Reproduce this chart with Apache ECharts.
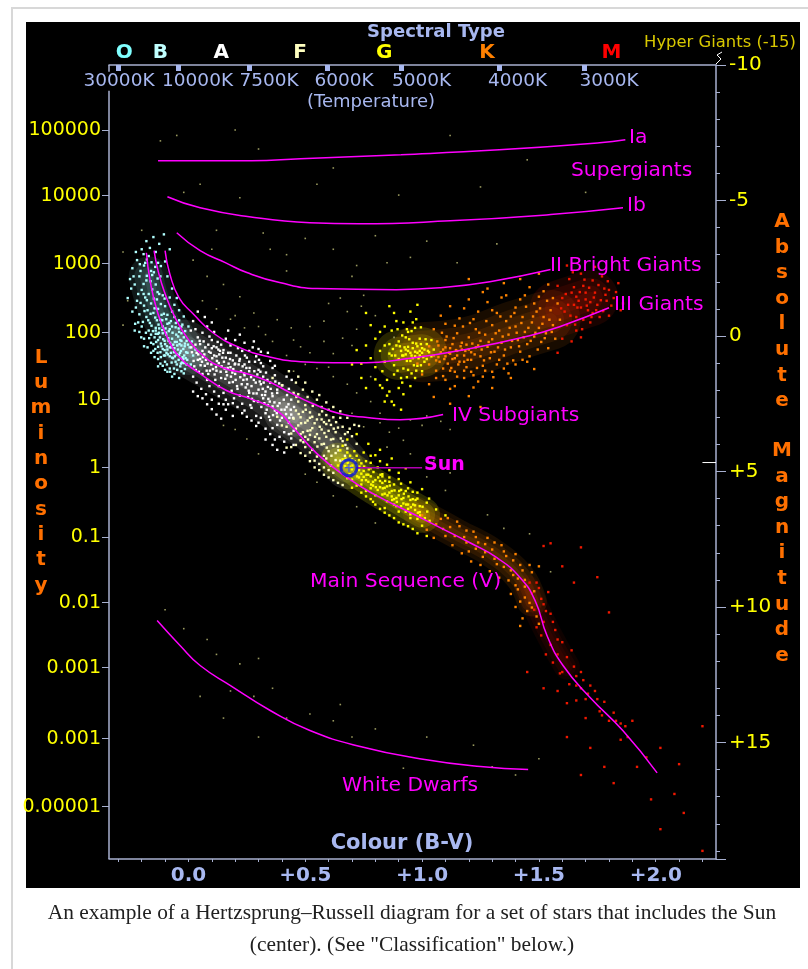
<!DOCTYPE html>
<html><head><meta charset="utf-8"><style>html,body{margin:0;padding:0;background:#fff}#c{width:808px;height:969px}</style>
<script src="https://cdn.jsdelivr.net/npm/echarts@6/dist/echarts.min.js"></script></head><body><div id="c"></div><script>
// Curves: [B-V, absolute magnitude]
const curveIa=[[-.13,-6.47],[.27,-6.47],[.48,-6.54],[.91,-6.69],[1.33,-6.87],[1.76,-7.13],[1.87,-7.24]];
const curveIb=[[-.09,-5.14],[.05,-4.73],[.26,-4.40],[.52,-4.18],[.73,-4.14],[1.12,-4.25],[1.55,-4.48],[1.86,-4.73]];
const curveII=[[-.05,-3.81],[.05,-3.15],[.16,-2.70],[.25,-2.34],[.39,-1.97],[.55,-1.75],[.89,-1.71],[1.08,-1.78],[1.29,-2.0],[1.55,-2.45]];
const curveIII=[[-.10,-3.15],[-.08,-2.30],[-.04,-1.41],[.02,-.82],[.105,-.12],[.22,.43],[.34,.76],[.48,.95],[.62,.99],[.76,.99],[.91,.87],[1.18,.51],[1.46,-.01],[1.60,-.38],[1.80,-1.04]];
const curveIV=[[-.147,-3.15],[-.13,-2.41],[-.10,-1.56],[-.057,-.68],[-.006,.06],[.063,.73],[.148,1.17],[.25,1.39],[.336,1.65],[.435,2.09],[.533,2.50],[.649,2.87],[.765,3.01],[.906,3.09],[1.09,2.90]];
const curveV=[[-.18,-3.07],[-.164,-2.04],[-.134,-.93],[-.09,.06],[-.036,.80],[.05,1.39],[.165,2.02],[.264,2.31],[.38,2.76],[.448,3.38],[.55,4.34],[.68,5.23],[.79,5.82],[.96,6.56],[1.077,7.07],[1.205,7.63],[1.32,8.18],[1.42,8.92],[1.484,9.77],[1.535,11.06],[1.604,12.17],[1.72,13.35],[1.86,14.57],[2.006,16.12]];
const curveWD=[[-.134,10.5],[-.036,11.42],[.05,12.16],[.18,12.9],[.35,13.82],[.52,14.56],[.735,15.15],[.99,15.6],[1.25,15.89],[1.454,16.0]];
const sunPoint=[[.687,4.86]];
const sunLeader=[[.72,4.86],[1.0,4.86]];
const plusFiveMark=[[2.2,4.67],[2.258,4.67]];
// Soft density ridges of the star cloud
const ridgeCyan=[[-.17,-2.2],[-.13,-1],[-.07,-.1],[0,.7]];
const ridgeWhite=[[-.02,.4],[.1,1],[.22,1.6],[.35,2.3],[.45,3]];
const ridgeCream=[[.42,2.8],[.52,3.4],[.62,4.2],[.68,4.8]];
const ridgeYellow=[[.64,4.6],[.75,5.3],[.9,6.1],[1,6.6]];
const ridgeOrangeMS=[[.98,6.5],[1.15,7.3],[1.3,8],[1.42,8.9],[1.47,9.8]];
const ridgeRedMS=[[1.45,9.3],[1.53,10.8],[1.62,12.2]];
const ridgeYellowG=[[.9,.7],[1,.6]];
const ridgeOrangeG=[[1,.6],[1.2,.4],[1.4,-.2],[1.55,-.6]];
const ridgeRedG=[[1.58,-1],[1.72,-1.4]];
// Stars as flat B-V, magnitude pairs
const cyanStars=[-.2,-3.2,-.18,-3.5,-.15,-3.65,-.22,-2.8,-.19,-2.6,-.24,-2.5,-.17,-2.95,-.14,-3.1,-.21,-2.2,-.18,-2.05,-.16,-2.4,-.13,-2.7,-.23,-1.9,-.2,-1.7,-.17,-1.55,-.14,-1.9,-.12,-2.2,-.11,-1.5,-.22,-1.3,-.19,-1.12,-.16,-1.2,-.13,-1.0,-.21,-.8,-.18,-.7,-.15,-.85,-.12,-.6,-.1,-1.1,-.09,-.45,-.2,-.35,-.17,-.2,-.14,-.3,-.11,-.1,-.08,-.25,-.06,-.7,-.19,.1,-.16,.25,-.13,.15,-.1,.3,-.07,.1,-.04,-.15,-.02,.05,-.15,.55,-.12,.6,-.09,.5,-.06,.45,-.03,.35,-.13,.85,-.1,.95,-.07,.8,-.04,.7,-.01,.6,-.11,1.1,-.08,1.2,-.05,1.05,-.02,1,-.06,1.4,-.03,1.3,-.235,-2.2,-.215,-1.55,-.185,-1.42,-.155,-1.72,-.125,-1.55,-.105,-.82,-.075,-.55,-.055,-.32,-.035,.15,-.015,.28,.005,.42,-.195,-.52,-.165,-.48,-.135,-.58,-.125,-.28,-.095,-.05,-.085,.18,-.065,.32,-.045,.5,-.025,.78,-.005,.88,-.145,.05,-.115,.38,-.105,.72,-.075,.62,-.055,.95,-.035,1.12,-.015,1.22,-.175,-.95,-.145,-1.02,-.115,-.78,-.095,-.62,-.205,-2.4,-.185,-2.7,-.155,-2.25,-.135,-1.35,-.165,-3.25,-.125,-3.4,-.105,-3.75,-.225,-1.05,-.245,-1.75,-.21,-.15,-.175,.42,-.145,.78,-.12,1.02,-.09,1.32,-.16,-.05,-.13,.4,-.08,.42,-.05,.22,-.03,-.35,-.07,-.9,-.04,-.58,-.1,.72,-.14,-.08,-.11,-.35,-.09,-.78,-.06,-1.15,-.02,1.38,.01,1.05,.02,.72,.03,.5,.015,.2,
-.188,-.92,-.172,-.58,-.158,-.38,-.142,-.68,-.128,-.42,-.112,-.58,-.098,-.28,-.082,-.48,-.068,-.12,-.052,-.05,-.038,.3,-.022,.48,-.008,.18,-.182,-.12,-.168,.08,-.152,-.18,-.138,.22,-.122,.05,-.108,.12,-.092,.38,-.078,.25,-.062,.6,-.048,.35,-.032,.55,-.018,.72,-.002,.32,-.132,.62,-.118,.78,-.102,.52,-.088,.68,-.072,.98,-.058,.75,-.042,.88,-.028,.98,-.012,.82,-.092,1.05,-.078,1.32,-.062,1.2,-.048,1.25,-.032,1.02,-.205,-1.22,-.192,-1.55,-.178,-1.32,-.162,-.82,-.148,-1.38,-.132,-1.62,-.118,-1.18,-.102,-1.38,-.192,-1.92,-.178,-2.22,-.162,-2.02,-.148,-2.35,-.132,-2.12,-.118,-2.58,-.208,-2.65,-.192,-3.02,-.178,-2.82,-.158,-2.72,-.142,-2.55,-.228,-.45,-.215,-.5,-.202,.05,-.225,-3.1,-.25,-2.1,-.26,-1.4,-.24,-.9,-.23,-.2,-.19,.38,-.16,.62,-.13,1.12,-.1,1.25,-.07,1.5,-.04,1.55,-.08,-3.2,-.1,-2.75,-.09,-2.2,-.07,-1.75,-.08,-1.42,-.05,-1.4,-.04,-.95,-.02,-.72,-.03,-.1,0,-.35,
-.118,.28,-.102,.18,-.086,.08,-.074,.42,-.058,.22,-.044,.02,-.03,.18,-.016,.38,-.004,.62,-.11,.48,-.094,.62,-.08,.75,-.066,.82,-.05,.68,-.036,.62,-.022,.85,-.008,1.05,-.126,-.12,-.112,-.22,-.096,-.12,-.084,-.18,-.07,-.35,-.054,-.48,-.042,-.28,-.026,-.42,-.014,-.18,-.14,-.2,-.13,-.08,-.15,.3,-.142,.48];
const whiteStars=[.02,-.55,.03,-.25,.04,.05,.05,.3,.06,.55,.05,.85,.07,1.1,.06,1.4,.08,1.62,.09,1.85,.1,-.5,.11,-.15,.1,.15,.12,.42,.11,.72,.13,1,.12,1.28,.14,1.55,.13,1.85,.15,2.1,.16,2.35,.17,-.2,.16,.1,.18,.35,.17,.62,.19,.9,.18,1.15,.2,1.4,.19,1.7,.21,1.95,.22,2.2,.23,2.5,.24,2.75,.22,-.05,.24,.25,.23,.55,.25,.8,.24,1.05,.26,1.3,.25,1.6,.27,1.85,.26,2.1,.28,2.4,.27,2.65,.29,2.95,.3,3.2,.28,.2,.3,.48,.29,.75,.31,1,.3,1.25,.32,1.5,.31,1.78,.33,2.05,.32,2.3,.34,2.55,.33,2.85,.35,3.1,.36,3.4,.04,-.9,.07,-.7,.09,.02,.085,.32,.095,.62,.075,.88,.105,1.22,.085,1.4,.115,1.62,.125,.22,.135,.55,.145,.8,.155,1.2,.165,1.45,.175,1.72,.185,2.02,.195,2.3,.205,.72,.215,1.05,.225,1.3,.235,1.62,.245,1.9,.255,2.25,.265,2.55,.275,.42,.285,.95,.295,1.42,.305,1.68,.315,2.18,.325,2.48,.335,2.72,.345,2.98,.34,.62,.35,.92,.36,1.18,.37,1.45,.35,1.72,.38,1.98,.36,2.22,.39,2.48,.37,2.75,.4,3.02,.38,3.28,.41,3.55,.02,1.5,.035,1.72,.055,1.95,.075,2.15,.1,2.35,.13,2.5,.16,2.72,.19,2.95,.01,-.2,.03,.32,.015,.6,.04,.88,.025,1.12,.045,1.32,.065,.2,.06,-.12,.08,-.35,.1,.45,.12,.75,.14,.32,.15,.52,.16,.8,.18,.62,.2,1.02,.22,.85,.24,1.45,.26,.95,.28,1.62,.3,1.98,.32,1.12,.34,1.88,.36,2.6,.38,2.1,.2,.15,.26,.55,.31,.58,.37,1.1,.42,1.5,.43,1.95,.44,2.35,.42,2.62,.44,2.9,.43,3.2,.45,3.5,.44,3.78,
.012,.42,.022,.92,.032,1.25,.042,.68,.052,1.08,.062,.78,.072,.42,.082,1.02,.092,1.28,.102,.82,.112,1.42,.122,.92,.132,.68,.142,1.12,.152,.95,.162,1.32,.172,1.02,.182,1.5,.192,1.22,.202,1.62,.212,.45,.222,1.52,.232,1.12,.242,.72,.252,1.78,.262,1.18,.272,2.32,.282,1.3,.292,2.12,.302,.88,.312,2.62,.322,1.72,.332,1.35,.342,2.32,.352,1.95,.362,2.92,.372,1.68,.382,2.58,.392,3.12,.402,1.82,.412,2.72,.422,2.18,.432,3.02,.442,1.62,.452,2.62,.11,2.05,.13,2.22,.15,2.52,.17,2.52,.19,2.48,.21,2.62,.23,2.85,.25,2.98,.27,3.12,.29,3.32,.31,3.02,.33,3.42,.35,3.62,.37,3.82,.39,3.72,.41,3.9,.43,3.62,.45,4.02,.02,2.05,.04,2.22,.06,2.3,.08,2.52,.1,2.7,.12,2.9,.14,3.05,.33,3.82,.36,4.02,.38,4.2,.41,4.3,
.035,.62,.048,.18,.058,.95,.068,.68,.078,1.28,.088,.58,.098,1.05,.108,.38,.118,1.15,.128,.5,.138,1.32,.148,.62,.158,1.58,.168,1.18,.178,.85,.188,1.35,.198,1.05,.208,1.85,.218,.92,.228,1.78,.238,1.38,.248,1.18,.258,2.02,.268,1.52,.278,2.12,.288,1.72,.298,2.42,.308,1.32,.318,1.95,.328,2.18,.338,1.62,.348,2.42,.358,2.12,.368,2.45,.378,2.85,.388,1.75,.398,2.72,.408,2.35,.418,2.88,.428,2.52,.438,2.72,.448,3.02];
const creamStars=[.36,1.55,.4,1.82,.43,1.3,.46,1.72,.45,2.1,.47,2.42,.46,2.75,.48,3,.47,3.3,.49,3.55,.48,3.85,.5,4.1,.49,1.98,.51,2.25,.5,2.55,.52,2.82,.51,3.12,.53,3.4,.52,3.65,.54,3.92,.53,4.2,.55,4.45,.55,2.35,.57,2.62,.56,2.9,.58,3.18,.57,3.45,.59,3.72,.58,3.98,.6,4.25,.59,4.52,.61,4.78,.6,2.72,.62,3,.61,3.28,.63,3.55,.62,3.8,.64,4.08,.63,4.32,.65,4.6,.66,3.35,.65,3.02,.67,3.62,.66,3.88,.68,4.15,.67,4.42,.52,3.02,.54,3.22,.55,3.62,.56,3.78,.57,4,.58,4.42,.59,3.25,.6,3.5,.61,3.82,.62,4.05,.63,4.58,.64,3.38,.49,2.8,.5,3.2,.51,3.5,.53,2.98,.55,3.08,.47,2.15,.45,3.05,.46,3.42,.48,3.62,.5,3.72,.52,4.3,.54,4.6,.56,4.72,.58,4.85,.6,4.95,.62,5.05,.42,3.35,.44,3.6,.4,3.3,.38,2.98,.57,3.08,.59,2.92,.7,3.7,.72,3.98,.69,3.42,.73,3.32,
.462,2.25,.472,2.88,.482,3.22,.492,3.92,.502,2.72,.512,3.82,.522,3.48,.532,2.58,.542,3.72,.552,4.08,.562,3.35,.572,2.78,.582,3.58,.592,4.12,.602,3.12,.612,4.42,.622,3.42,.632,3.18,.642,4.22,.652,3.78,.662,4.62,.672,4.02,.682,3.55,.46,4.02,.48,4.32,.5,4.42,.52,4.62,.54,4.85,.56,4.95,.58,5.12,.6,5.22,.62,5.32,.64,5.42,.66,5.5,.44,4.1,.42,4.12,.47,1.5,.5,1.72,.53,2.05,.56,2.18,.59,2.45,.62,2.62,.65,2.78,.68,3.02,.71,3.28];
const yellowStars=[.66,4.55,.68,4.3,.7,4.55,.69,4.82,.71,5.05,.7,5.3,.72,4.42,.74,4.7,.73,4.95,.75,5.2,.74,5.48,.76,5.72,.76,4.62,.78,4.88,.77,5.12,.79,5.38,.78,5.62,.8,5.88,.79,6.12,.81,4.85,.83,5.1,.82,5.35,.84,5.6,.83,5.85,.85,6.1,.84,6.35,.86,5.22,.88,5.48,.87,5.72,.89,5.98,.88,6.22,.9,6.48,.91,5.45,.93,5.72,.92,5.98,.94,6.22,.93,6.48,.95,6.72,.96,5.75,.98,6,.97,6.25,.99,6.5,.98,6.75,1,7,.72,4.78,.75,4.98,.77,5.38,.8,5.32,.82,5.58,.85,5.55,.87,5.92,.9,5.88,.92,6.18,.95,6.05,.97,6.42,.74,5.08,.76,5.32,.78,5.18,.81,5.68,.83,5.42,.86,5.78,.88,6.02,.91,6.28,.94,6.38,.69,5.1,.67,4.8,.71,4.25,.75,4.3,.8,4.4,.85,4.75,.9,5.05,.95,5.4,1,5.65,1.03,6,.72,5.52,.76,5.92,.8,6.22,.84,6.52,.88,6.72,.92,6.95,.96,7.12,.65,4.22,.64,4.78,.66,5.02,.68,5.25,.7,5.6,.66,4.05,.68,3.82,.72,3.62,.77,3.98,.82,4.2,.87,4.52,.93,4.88,.7,4.92,.73,5.22,.79,5.52,.84,5.82,.89,6.28,.95,6.58,.73,4.58,.78,4.68,.83,5.18,.86,5.38,.91,5.68,.96,6.02,.99,6.28,
.672,4.52,.682,4.68,.692,4.42,.702,4.78,.712,4.62,.722,5.18,.732,4.82,.742,5.32,.752,4.82,.762,5.12,.772,4.92,.782,5.48,.792,5.02,.802,5.58,.812,5.22,.822,5.12,.832,5.62,.842,5.35,.852,5.88,.862,5.52,.872,6.05,.882,5.7,.892,6.12,.902,5.72,.912,6.02,.922,5.82,.932,6.22,.942,5.92,.952,6.32,.962,6.22,.972,6.05,.982,6.52,.992,6.62,1.002,6.3,1.012,6.72,1.022,6.48,1.032,6.82,.78,4.42,.82,4.62,.86,4.95,.9,5.28,.94,5.62,.98,5.78,1.02,6.15,1.06,6.4,1.1,6.62,.74,5.78,.78,6.02,.82,6.38,.86,6.62,.9,6.88,.94,7.02,.98,7.28,1.02,7.38];
const yellowGiants=[.8,.1,.82,.55,.84,.95,.83,1.3,.85,1.62,.86,.3,.87,.72,.88,1.08,.87,-.2,.89,-.55,.9,.2,.91,.55,.9,.85,.92,1.2,.91,1.55,.9,1.92,.93,.05,.94,.4,.93,.68,.95,.92,.94,1.25,.96,.25,.97,.58,.96,.82,.98,1.1,.97,-.3,.99,.1,1,.45,.99,.72,1.01,.95,1,1.3,1.02,.3,1.03,.6,1.02,.85,1.04,.15,1.05,.5,1.04,.75,.95,.62,.96,.45,.97,.75,.98,.38,.99,.55,.94,.55,.92,.72,.93,.5,.98,.62,1,.62,1.01,.5,.89,.35,.88,-.85,.86,-1.1,.92,-.5,.95,-.9,.98,-1.15,.85,2.2,.88,2.55,.92,2.15,.95,1.85,.97,1.55,.78,.82,.76,.35,.8,1.15,.74,1.02,.83,1.92,.87,2.42,.91,2.72,.94,-.15,.96,-.5,.84,-.35,
.905,.38,.915,.72,.925,.42,.935,.92,.945,.12,.955,.72,.965,1.08,.975,.28,.985,.82,.995,.3,1.005,.78,1.015,.12,1.025,.55,.875,.48,.885,.72,.895,1.28,.895,-.25,.915,-.02,.935,-.25,.955,-.18,.975,-.62,.995,-.32,.915,1.72,.935,1.52,.955,1.38,.975,1.28,.995,1.08,.82,-.15,.84,.35,.86,.65,.88,1.42,.8,1.6,.82,1.82,.84,2.42,.86,2.05,.78,-.4,.76,-.85,.72,.52,.7,1.05,.74,1.55,.76,1.92];
const orangeStars=[1.06,.9,1.07,.35,1.08,.6,1.09,1.2,1.1,.15,1.1,.75,1.11,1.02,1.12,.45,1.13,.85,1.14,1.32,1.15,-.1,1.15,.55,1.16,.95,1.17,.25,1.18,.72,1.19,1.15,1.2,.05,1.2,.5,1.21,.88,1.22,1.45,1.23,-.25,1.24,.35,1.25,.75,1.26,1.1,1.27,-.05,1.28,.4,1.29,.82,1.3,-.4,1.3,.12,1.31,.58,1.32,1.05,1.33,-.2,1.34,.25,1.35,.72,1.36,-.55,1.37,-.05,1.38,.42,1.39,.9,1.4,-.35,1.41,.15,1.42,.58,1.43,-.7,1.44,-.15,1.45,.3,1.46,.75,1.47,-.5,1.48,.02,1.49,-.9,1.5,-.3,1.51,.22,1.52,-.7,1.53,-.1,1.54,.45,1.55,-.95,1.56,-.4,1.57,.1,1.58,-1.2,1.59,-.6,1.05,-.25,1.08,-.75,1.12,-1.1,1.16,-.65,1.2,-1.35,1.24,-.9,1.28,-1.25,1.32,-.85,1.36,-1.5,1.4,-1.05,1.44,-1.5,1.48,-1.2,1.52,-1.65,1.56,-1.4,1.06,1.55,1.1,1.62,1.14,1.85,1.18,1.55,1.22,1.9,1.26,1.5,1.3,1.32,1.35,1.2,1.4,1.05,1.45,.95,.98,1.02,1.0,1.42,1.03,1.78,1.05,2.25,1.12,2.5,1.25,2.62,1.09,.5,1.13,.3,1.15,.72,1.17,.5,1.19,.32,1.21,.6,1.23,.42,1.25,.18,1.1,.42,1.12,.65,1.14,.82,1.18,.95,1.05,.72,1.07,.78,1.03,.38,1.35,-1.95,1.42,-2.1,1.5,-2.3,1.28,-1.75,1.2,-2.1,1.12,7.05,1.08,6.75,1.1,7.38,1.13,7.72,1.16,7.02,1.18,7.42,1.2,7.95,1.22,7.22,1.24,7.62,1.26,8.15,1.28,7.45,1.3,7.88,1.32,8.42,1.34,7.72,1.36,8.12,1.38,8.65,1.4,8.05,1.42,8.45,1.44,9,1.4,9.2,1.38,9.52,1.42,9.8,1.45,10.15,1.47,8.72,1.48,9.42,1.5,8.5,1.46,9.85,1.43,10.42,1.5,10.62,1.05,7.45,1.02,7.15,1.0,6.62,1.06,6.95,1.09,7.12,1.14,7.38,1.19,7.62,1.23,7.85,1.27,7.98,1.31,8.22,1.35,8.52,1.39,8.82,1.41,9.35,1.44,9.65,1.47,10.02,1.49,10.35,
1.065,.2,1.075,.95,1.085,-.12,1.095,.85,1.105,.02,1.115,.62,1.125,1.18,1.135,.08,1.145,.52,1.155,1.05,1.165,.38,1.175,-.35,1.185,.55,1.195,.88,1.205,-.48,1.215,.28,1.225,.68,1.235,1.18,1.245,-.12,1.255,.5,1.265,.9,1.275,-.55,1.285,.22,1.295,.6,1.305,1.52,1.315,-.1,1.325,.42,1.335,-.72,1.345,.02,1.355,.5,1.365,1.02,1.375,-.3,1.385,.18,1.395,-.85,1.405,-.12,1.415,.38,1.425,-.48,1.435,.05,1.445,-1.08,1.455,-.3,1.465,.18,1.475,-.72,1.485,-.12,1.495,.5,1.505,-1.02,1.515,-.45,1.525,.08,1.535,-1.3,1.545,-.6,1.555,-.15,1.1,-.45,1.14,-.38,1.18,-1.02,1.22,-.62,1.26,-1.62,1.3,-.95,1.34,-1.42,1.38,-.72,1.42,-1.35,1.46,-1.8,1.5,-1.45,1.54,-1.9,1.03,1.05,1.06,1.28,1.09,1.48,1.12,1.28,1.15,1.5,1.18,1.28,1.21,1.32,1.24,1.68,1.27,1.28,1.33,.88,1.37,1.38,1.43,.88,1.12,1.95,1.2,2.22,1.3,1.92,1.38,1.55,1.48,1.22,1.11,6.72,1.15,6.85,1.19,7.18,1.23,7.42,1.27,7.68,1.31,7.62,1.35,7.95,1.39,8.28,1.43,8.65,1.17,8.02,1.21,8.32,1.25,8.45,1.29,8.68,1.33,8.92,1.37,9.02,1.41,8.95,1.4,10,1.42,10.7,1.44,9.25,1.46,8.45];
const redStars=[1.58,-1.85,1.6,-1.4,1.61,-.9,1.62,-.4,1.63,-2.1,1.64,-1.6,1.65,-1.15,1.66,-.7,1.66,-.2,1.68,-2.3,1.69,-1.85,1.7,-1.35,1.71,-.95,1.72,-.5,1.73,-2.05,1.74,-1.6,1.75,-1.15,1.76,-.7,1.77,-2.2,1.78,-1.75,1.79,-1.3,1.8,-1.7,1.82,-1.4,1.84,-1.95,1.67,-1.3,1.68,-1.05,1.69,-.6,1.7,-1.6,1.66,-1.45,1.65,-1.8,1.72,-1.25,1.73,-.85,1.6,.1,1.64,.2,1.68,.05,1.58,.62,1.62,-2.6,1.74,-2.55,1.8,-.75,1.86,-1.2,1.46,9.1,1.48,10.1,1.5,9.3,1.52,9.9,1.54,9.45,1.52,10.55,1.55,10.25,1.57,10.85,1.55,11.4,1.58,11.75,1.6,11.3,1.6,12.4,1.62,11.85,1.63,12.85,1.65,12.2,1.66,12.9,1.68,13,1.68,12.4,1.7,13.4,1.72,12.9,1.74,13.1,1.76,13.85,1.78,13.5,1.8,14.2,1.82,13.9,1.85,14.3,1.88,14.8,1.7,14.1,1.62,13.55,1.58,13.1,1.52,13,1.45,12.4,1.55,7.65,1.6,8.5,1.65,9.1,1.52,7.75,1.68,7.8,1.75,8.9,1.8,10.2,1.92,15.9,2.02,15.2,2.1,15.8,2.2,14.4,1.82,16.5,1.98,17.1,2.08,16.9,2.12,17.6,2.02,18.2,2.2,19,1.96,15.55,1.72,15.2,1.78,15.9,1.85,14.9,1.9,14.2,1.62,14.8,1.68,16.2,
1.595,-1.02,1.615,-1.55,1.625,-1.15,1.635,-.75,1.645,-2.35,1.655,-.42,1.665,-1.05,1.675,-1.62,1.685,-.25,1.695,-2.08,1.705,-1.12,1.715,-1.78,1.725,-.7,1.735,-1.42,1.745,-.95,1.755,-1.88,1.765,-1.32,1.775,-.92,1.785,-1.52,1.795,-2.02,1.81,-1.12,1.83,-1.62,1.85,-.95,1.47,9.5,1.49,9.1,1.51,9.7,1.53,10.15,1.49,10.75,1.51,11.05,1.56,10.55,1.58,11.2,1.53,11.75,1.56,12.05,1.59,12.45,1.64,11.6,1.66,12.55,1.69,12.7,1.71,13.2,1.75,13.4,1.77,14,1.83,14.2,1.87,14.4,1.66,13.45];
const faintStars=[-.05,-7.4,-.12,-7.2,.2,-7.6,.3,-6.9,.55,-5.6,.62,-6.2,.9,-5.2,1.12,-7.4,1.25,-5.5,1.45,-6.5,1.7,-5.3,.05,-5.6,-.02,-5.3,.22,-5.1,.12,-3.9,.32,-3.8,.5,-3.6,.42,-3,.62,-3.2,.72,-2.6,.8,-3.7,.85,-2.7,.95,-2.9,1.02,-3.5,1.15,-2.7,1.32,-3.4,.6,-1.2,.68,-.9,.75,-1.5,.72,-.25,.52,-.35,.45,.15,.38,-.6,.28,-.85,.22,-1.45,.15,-1.9,.08,-2.2,.2,-.75,.33,-.05,.48,.4,.58,.2,.62,.65,.7,.35,.55,1.2,.62,1.5,.68,1.78,.72,2.1,.78,2.42,.82,2.85,.7,2.85,.75,3.35,.6,1.15,.5,1.05,.45,1.3,.42,.72,.1,-3.2,.02,-2.8,-.2,-3.9,-.28,-3.1,-.26,-1.3,-.28,-.4,.65,-1.4,.35,-3.2,.42,-2.4,.7,-2.2,-.1,10.1,-.02,10.8,.08,11.2,.12,11.75,.22,12.1,.3,11.9,.18,13.1,.28,13.3,.36,13,.42,14.1,.52,13.95,.05,13.3,.62,14.2,.7,14.8,.8,14.5,1.02,14.8,1.22,15.1,1.4,16.2,1.3,15.9,1.5,15.6,.92,15.95,.65,13.6,.3,14.8,.15,14.1,
.78,1.5,.82,3.2,.86,3.55,.9,3.4,.95,3.1,1,3.3,1.02,2.95,1.08,3.15,1.12,3.45,1.18,3.05,.88,.05,.8,-.75,.74,-1.1,.66,.08,.58,-.55,.52,.62,.44,-.3,.36,.2,.3,-.35,.24,-.3,.18,-.62,.12,-1,.06,-1.3,.92,3.85,.85,4.1,.95,4.35,1.05,4.6,1.12,5.05,1.02,5.2,1.1,5.7,.62,5.9,.55,5.4,.5,5.1,.72,6.3,.8,6.9,.3,4.35,.25,3.8,.2,3.45,.15,3.3,1.28,6.6,1.35,7.1,1.46,7.3,1.55,8.7];
const pairs=a=>{const r=[];for(let i=0;i<a.length;i+=2)r.push([a[i],a[i+1]]);return r;};
// Axis ticks and labels
const colourTicks=[-.3,-.2,-.1,0,.1,.2,.3,.4,.5,.6,.7,.8,.9,1,1.1,1.2,1.3,1.4,1.5,1.6,1.7,1.8,1.9,2,2.1,2.2];
const colourLabels=[0,.5,1,1.5,2];
const colourText=['0.0','+0.5','+1.0','+1.5','+2.0'];
const tempTicks=[-.301,-.045,.259,.593,.91,1.332,1.692];
const tempPos=[-.297,.039,.345,.666,.998,1.409,1.80];
const tempText=['30000K','10000K','7500K','6000K','5000K','4000K','3000K'];
const specPos=[-.275,-.12,.14,.478,.838,1.278,1.81];
const specText=['O','B','A','F','G','K','M'];
const specColour=['#80ffff','#c0ffff','#ffffff','#ffffc0','#ffff00','#ff8000','#ff0000'];
const lumPos=[-7.61,-5.18,-2.67,-.12,2.35,4.86,7.41,9.84,12.24,14.86,17.37];
const lumText=['100000','10000','1000','100','10','1','0.1','0.01','0.001','0.001','0.00001'];
const leftRule=[[-.34,-9.05],[-.34,19.3]];
const leftStub=[[-.34,-10],[-.34,-9.75]];

const blue='#a8b8f0',axisC='#a8b0d0',magenta='#ff00ff',yellow='#ffff00',orange='#ff7000';
const xMin=-.34,xMax=2.258;
const look=(vals,txt)=>v=>{let b=0,d=1e9;vals.forEach((p,i)=>{const e=Math.abs(p-v);if(e<d){d=e;b=i}});return txt[b]};
const curve=(d,w)=>({type:'line',data:d,smooth:.5,symbol:'none',silent:true,z:5,lineStyle:{color:magenta,width:w||1.5}});
const stars=(a,c,s,o)=>({type:'scatter',data:pairs(a),symbol:'rect',symbolSize:s||2.4,silent:true,z:3,itemStyle:{color:c,opacity:o||1}});
const ridge=(d,c,w,o)=>[1,.72,.45,.22].map(k=>({type:'line',data:d,smooth:.4,symbol:'none',silent:true,z:2,lineStyle:{color:c,width:w*k,opacity:o,cap:'round'}}));
const rule=(d)=>({type:'line',data:d,yAxisIndex:1,symbol:'none',silent:true,clip:false,z:4,lineStyle:{color:axisC,width:1.5}});
const font='"DejaVu Sans"';
const txt=(x,y,t,o)=>({type:'text',x,y,z:20,silent:true,style:Object.assign({text:t,fill:magenta,font:'20.3px '+font,textVerticalAlign:'middle'},o||{})});

const chart=echarts.init(document.getElementById('c'),null,{renderer:'canvas'});
chart.setOption({animation:false,backgroundColor:'#fff',
 grid:{left:109,top:65,width:607,height:794},
 xAxis:[
  {type:'value',position:'bottom',min:xMin,max:xMax,splitLine:{show:false},axisLine:{onZero:false,lineStyle:{color:axisC,width:1.5}},
   axisTick:{length:3,customValues:colourTicks,lineStyle:{color:axisC}},
   axisLabel:{customValues:colourLabels,margin:7,color:blue,fontFamily:font,fontWeight:'bold',fontSize:20,formatter:look(colourLabels,colourText)}},
  {type:'value',position:'top',min:xMin,max:xMax,splitLine:{show:false},axisLine:{onZero:false,lineStyle:{color:axisC,width:1.5}},
   axisTick:{inside:true,length:6,customValues:tempTicks,lineStyle:{color:blue,width:5}},
   axisLabel:{inside:true,customValues:tempPos,margin:7,color:blue,fontFamily:font,fontSize:18.5,formatter:look(tempPos,tempText)}},
  {type:'value',position:'top',min:xMin,max:xMax,splitLine:{show:false},axisLine:{show:false,onZero:false},axisTick:{show:false},
   axisLabel:{customValues:specPos,margin:2,fontFamily:font,fontWeight:'bold',fontSize:20,formatter:look(specPos,specText),color:v=>look(specPos,specColour)(v)}}
 ],
 yAxis:[
  {type:'value',position:'right',inverse:true,min:-10,max:19.3,interval:5,splitLine:{show:false},axisLine:{onZero:false,lineStyle:{color:axisC,width:1.5}},
   axisTick:{length:10,lineStyle:{color:axisC}},minorTick:{show:true,splitNumber:5,length:4,lineStyle:{color:axisC}},
   axisLabel:{margin:13,showMaxLabel:false,color:yellow,fontFamily:font,fontSize:20,formatter:v=>v>0?'+'+v:String(v)}},
  {type:'value',position:'left',inverse:true,min:-10,max:19.3,splitLine:{show:false},axisLine:{show:false,onZero:false},
   axisTick:{length:7,customValues:lumPos,lineStyle:{color:axisC}},
   axisLabel:{customValues:lumPos,margin:8,color:yellow,fontFamily:font,fontSize:19,formatter:look(lumPos,lumText)}}
 ],
 series:[
  ...ridge(ridgeCyan,'#90f0f0',40,.1),...ridge(ridgeWhite,'#ffffff',54,.09),...ridge(ridgeCream,'#fffff0',46,.1),
  ...ridge(ridgeYellow,'#ffff00',36,.17),...ridge(ridgeOrangeMS,'#e87800',30,.11),...ridge(ridgeRedMS,'#c02000',26,.07),
  ...ridge(ridgeYellowG,'#f0e800',50,.16),...ridge(ridgeOrangeG,'#e87800',60,.1),...ridge(ridgeRedG,'#c81800',56,.12),
  stars(faintStars,'#a8a868',1.6,.9),stars(cyanStars,'#b0ffff'),stars(whiteStars,'#ffffff'),stars(creamStars,'#ffffc0'),
  stars(yellowGiants,'#ffff00'),stars(yellowStars,'#ffff00'),stars(orangeStars,'#ff8400'),stars(redStars,'#f01800'),
  rule(leftRule),rule(leftStub),
  curve(curveIa),curve(curveIb),curve(curveII),curve(curveIII),curve(curveIV),curve(curveV),curve(curveWD),
  {type:'line',data:sunLeader,symbol:'none',silent:true,z:5,lineStyle:{color:'#b000b0',width:1.5}},
  {type:'line',data:plusFiveMark,symbol:'none',silent:true,z:5,lineStyle:{color:'#ffffff',width:1}},
  {type:'scatter',data:sunPoint,symbol:'circle',symbolSize:16,silent:true,z:7,itemStyle:{color:'transparent',borderColor:'#0010e0',borderWidth:3}},
  {type:'scatter',data:sunPoint,symbol:'path://M5 0H7V5H12V7H7V12H5V7H0V5H5Z',symbolSize:8,silent:true,z:7,itemStyle:{color:'#3040ff'}}
 ],
 graphic:{elements:[
  {type:'rect',z:-10,silent:true,shape:{x:26,y:22,width:774,height:866},style:{fill:'#000'}},
  {type:'rect',z:-11,silent:true,shape:{x:11,y:7,width:797,height:2},style:{fill:'#d8d8d8'}},
  {type:'rect',z:-11,silent:true,shape:{x:11,y:7,width:2,height:962},style:{fill:'#d8d8d8'}},
  {type:'polyline',z:10,silent:true,shape:{points:[[722,52],[717,55],[721,59],[716,64]]},style:{stroke:'#fff',lineWidth:1,fill:null}},
  txt(436,32,'Spectral Type',{fill:blue,font:'bold 18px '+font,textAlign:'center'}),
  txt(371,102,'(Temperature)',{fill:blue,font:'18px '+font,textAlign:'center'}),
  txt(720,43,'Hyper Giants (-15)',{fill:'#d8c800',font:'16.4px '+font,textAlign:'center'}),
  txt(402,844,'Colour (B-V)',{fill:blue,font:'bold 21px '+font,textAlign:'center'}),
  {type:'text',x:41,y:345,z:20,silent:true,style:{text:'L\nu\nm\ni\nn\no\ns\ni\nt\ny',fill:orange,font:'bold 20px '+font,lineHeight:25.3,textAlign:'center',textVerticalAlign:'top'}},
  {type:'text',x:782,y:209,z:20,silent:true,style:{text:'A\nb\ns\no\nl\nu\nt\ne',fill:orange,font:'bold 20px '+font,lineHeight:25.6,textAlign:'center',textVerticalAlign:'top'}},
  {type:'text',x:782,y:438,z:20,silent:true,style:{text:'M\na\ng\nn\ni\nt\nu\nd\ne',fill:orange,font:'bold 20px '+font,lineHeight:25.6,textAlign:'center',textVerticalAlign:'top'}},
  txt(629,138,'Ia'),txt(571,171,'Supergiants'),txt(627,206,'Ib'),txt(550,266,'II Bright Giants'),txt(614,305,'III Giants'),
  txt(452,416,'IV Subgiants'),txt(424,465,'Sun',{font:'bold 19px '+font}),txt(310,582,'Main Sequence (V)'),txt(342,786,'White Dwarfs'),
  txt(412,913,'An example of a Hertzsprung\u2013Russell diagram for a set of stars that includes the Sun',{fill:'#202020',font:'21.4px "Liberation Serif"',textAlign:'center'}),
  txt(412,945,'(center). (See "Classification" below.)',{fill:'#202020',font:'21.4px "Liberation Serif"',textAlign:'center'})
 ]}
});
</script></body></html>
